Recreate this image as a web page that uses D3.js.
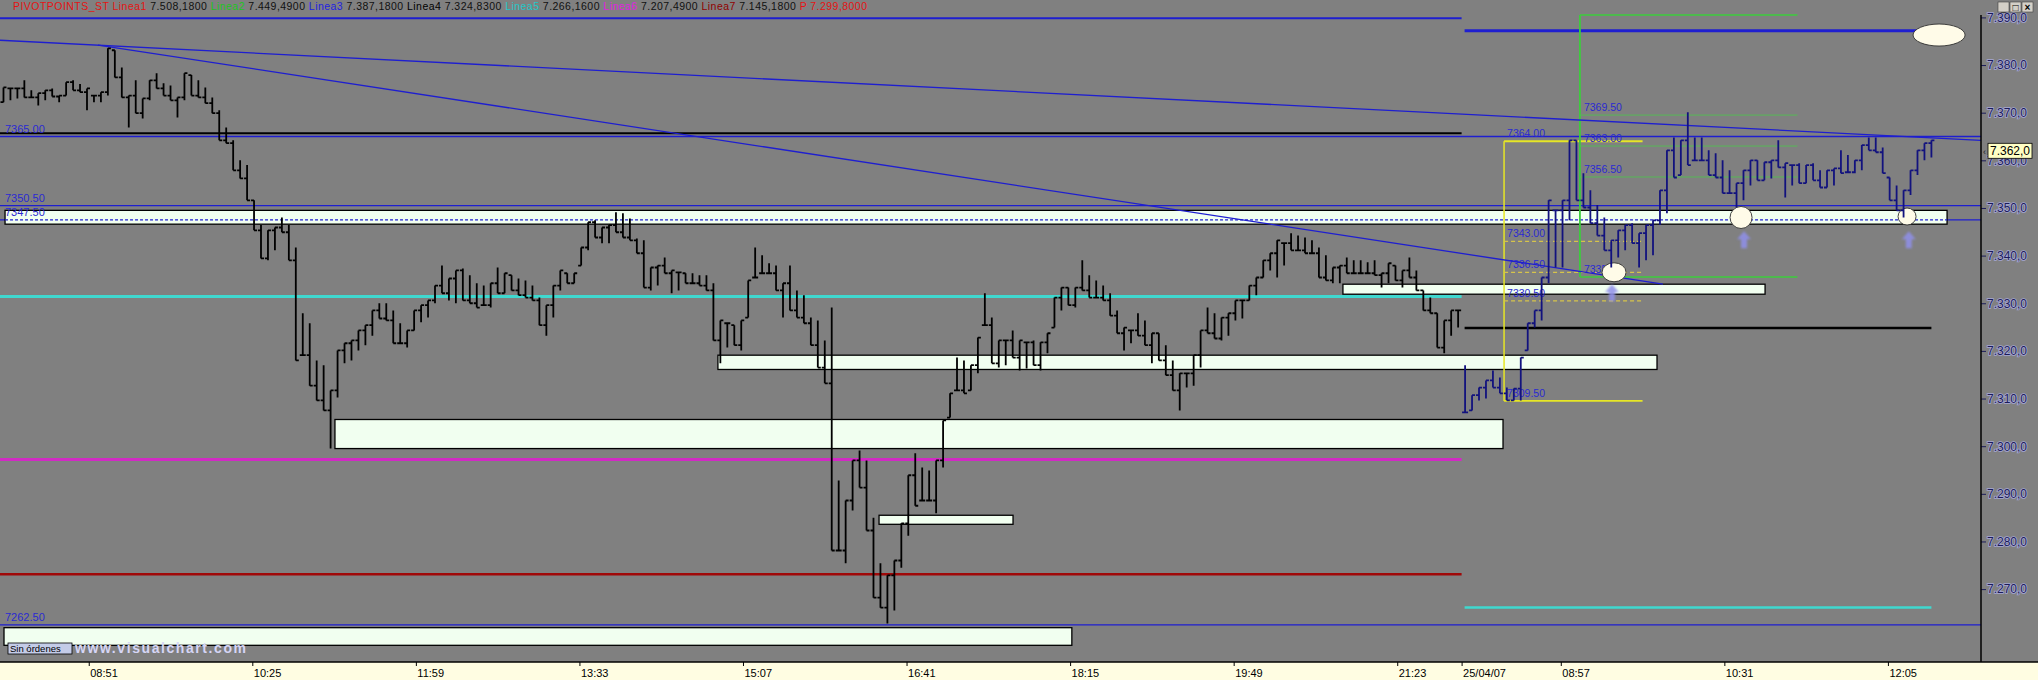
<!DOCTYPE html>
<html>
<head>
<meta charset="utf-8">
<script src="https://cdn.jsdelivr.net/npm/d3@7"></script>
<style>
  body { margin: 0; background: #808080; }
  svg { display: block; font-family: "Liberation Sans", Arial, sans-serif; }
</style>
</head>
<body>
<div id="wrapper"></div>
<script>
//1) Data

// x values are minutes counted from 08:00 of the first session (second session starts at 840)
const timeTicks = [51, 145, 239, 333, 427, 521, 615, 709, 803, 840, 897, 991, 1085];
const timeLabels = ["08:51", "10:25", "11:59", "13:33", "15:07", "16:41", "18:15", "19:49", "21:23", "25/04/07", "08:57", "10:31", "12:05"];
const priceTicks = [7270, 7280, 7290, 7300, 7310, 7320, 7330, 7340, 7350, 7360, 7370, 7380, 7390];

const headerNames = ["PIVOTPOINTS_ST", "Linea1", "Linea2", "Linea3", "Linea4", "Linea5", "Linea6", "Linea7", "P"];
const headerValues = ["", "7.508,1800", "7.449,4900", "7.387,1800", "7.324,8300", "7.266,1600", "7.207,4900", "7.145,1800", "7.299,8000"];

// 4 minute bars, low and high
const barLow = [
  7372.2, 7372.6, 7373.0, 7373.2, 7373.2, 7371.5, 7372.6, 7373.4, 7372.2, 7373.6,
  7374.7, 7374.3, 7370.5, 7372.2, 7372.2, 7373.6, 7377.4, 7373.2, 7366.9, 7369.9,
  7368.8, 7372.6, 7375.1, 7373.6, 7372.6, 7369.0, 7372.6, 7373.6, 7373.2, 7372.0,
  7369.9, 7364.2, 7363.6, 7357.9, 7356.2, 7351.6, 7345.3, 7339.4, 7339.0, 7341.1,
  7344.9, 7339.0, 7318.0, 7319.1, 7312.7, 7309.6, 7307.5, 7299.5, 7310.2, 7317.4,
  7318.0, 7320.1, 7321.2, 7323.2, 7326.8, 7326.4, 7321.6, 7321.6, 7320.7, 7324.3,
  7326.0, 7327.0, 7330.0, 7332.1, 7330.6, 7330.0, 7330.6, 7330.0, 7329.1, 7329.6,
  7329.1, 7332.1, 7332.1, 7332.7, 7331.7, 7331.2, 7330.6, 7325.4, 7323.2, 7327.0,
  7332.7, 7334.2, 7334.2, 7337.9, 7341.1, 7343.8, 7342.6, 7342.6, 7344.9, 7343.8,
  7343.2, 7340.5, 7333.3, 7332.7, 7333.7, 7336.3, 7332.1, 7332.7, 7334.2, 7334.2,
  7333.7, 7332.7, 7322.2, 7317.4, 7320.7, 7321.2, 7320.1, 7327.0, 7335.4, 7336.3,
  7336.3, 7332.7, 7327.0, 7328.5, 7327.0, 7325.8, 7321.2, 7316.5, 7313.2, 7278.1,
  7278.1, 7275.4, 7286.5, 7291.3, 7282.3, 7268.2, 7266.1, 7262.8, 7265.5, 7274.5,
  7281.2, 7287.5, 7288.6, 7288.6, 7285.9, 7295.5, 7306.0, 7311.7, 7311.1, 7311.7,
  7315.3, 7325.4, 7317.4, 7316.5, 7317.0, 7318.6, 7315.9, 7316.3, 7317.0, 7315.9,
  7319.5, 7324.9, 7328.5, 7329.6, 7329.1, 7332.7, 7331.2, 7331.2, 7330.6, 7327.4,
  7323.7, 7320.1, 7321.6, 7323.2, 7321.2, 7317.4, 7318.0, 7314.9, 7311.7, 7307.5,
  7312.3, 7312.7, 7316.5, 7323.7, 7322.6, 7322.2, 7323.2, 7326.4, 7326.8, 7330.6,
  7331.7, 7335.4, 7336.9, 7335.4, 7337.9, 7341.1, 7341.1, 7340.5, 7340.5, 7335.4,
  7334.8, 7334.2, 7334.2, 7336.3, 7336.3, 7336.3, 7336.3, 7335.9, 7333.3, 7334.2,
  7334.8, 7333.3, 7335.4, 7332.7, 7328.5, 7327.9, 7320.7, 7319.5, 7323.2, 7324.9,
  7307.1, 7307.5, 7309.6, 7310.0, 7312.3, 7311.1, 7309.6, 7309.6, 7309.6, 7320.1,
  7324.9, 7326.4, 7334.2, 7337.5, 7337.5, 7347.4, 7351.6, 7350.1, 7346.8, 7344.2,
  7341.1, 7337.5, 7339.6, 7341.1, 7342.6, 7337.5, 7339.0, 7340.1, 7346.4, 7348.9,
  7356.4, 7356.9, 7359.0, 7360.0, 7360.0, 7356.9, 7356.4, 7353.1, 7353.1, 7350.1,
  7351.6, 7354.7, 7355.8, 7355.8, 7356.2, 7358.5, 7352.2, 7354.7, 7355.2, 7355.2,
  7355.8, 7354.3, 7354.3, 7354.7, 7357.3, 7357.5, 7357.3, 7357.9, 7362.1, 7361.7,
  7357.3, 7351.6, 7349.5, 7348.0, 7352.7, 7356.9, 7360.0, 7360.6
];
const barHigh = [
  7375.3, 7375.1, 7375.1, 7376.8, 7374.7, 7374.1, 7374.7, 7375.1, 7373.6, 7376.4,
  7376.8, 7376.0, 7375.1, 7373.6, 7374.3, 7383.5, 7383.1, 7379.5, 7373.6, 7376.8,
  7373.0, 7376.8, 7378.3, 7376.2, 7375.7, 7373.2, 7378.3, 7377.9, 7376.8, 7375.3,
  7373.2, 7370.5, 7366.9, 7364.2, 7360.0, 7359.0, 7351.6, 7346.4, 7345.3, 7345.9,
  7348.0, 7346.4, 7341.7, 7327.9, 7325.8, 7318.0, 7317.0, 7311.7, 7320.1, 7321.6,
  7322.2, 7324.3, 7325.4, 7328.5, 7330.0, 7330.0, 7328.5, 7325.8, 7324.3, 7328.5,
  7329.6, 7330.6, 7333.7, 7337.9, 7335.2, 7336.9, 7337.3, 7335.9, 7334.2, 7333.7,
  7334.2, 7337.5, 7336.3, 7335.9, 7335.2, 7334.8, 7333.7, 7331.2, 7329.6, 7333.7,
  7336.9, 7336.3, 7336.3, 7341.7, 7347.0, 7347.4, 7345.9, 7346.4, 7349.1, 7348.9,
  7347.8, 7343.6, 7343.2, 7337.5, 7337.9, 7339.6, 7336.9, 7336.5, 7336.3, 7336.3,
  7335.9, 7335.9, 7334.2, 7326.4, 7325.8, 7325.4, 7326.4, 7334.8, 7341.7, 7340.1,
  7338.4, 7337.9, 7334.2, 7337.9, 7332.7, 7331.7, 7327.0, 7326.4, 7322.2, 7329.1,
  7292.8, 7288.6, 7297.0, 7299.1, 7297.0, 7285.0, 7275.4, 7272.9, 7276.0, 7283.8,
  7293.9, 7298.5, 7295.5, 7294.9, 7297.0, 7305.4, 7311.1, 7318.6, 7318.0, 7317.0,
  7322.8, 7332.1, 7327.0, 7322.2, 7322.2, 7324.3, 7322.2, 7321.8, 7322.2, 7321.8,
  7323.7, 7331.2, 7333.3, 7333.3, 7333.3, 7339.0, 7335.9, 7334.8, 7333.7, 7332.1,
  7328.5, 7324.9, 7324.3, 7327.9, 7326.4, 7323.7, 7323.7, 7321.2, 7318.0, 7315.3,
  7315.3, 7319.1, 7324.3, 7329.1, 7327.9, 7327.0, 7327.9, 7330.6, 7330.6, 7333.7,
  7335.4, 7339.0, 7340.5, 7343.2, 7342.6, 7344.7, 7344.2, 7343.8, 7343.2, 7341.7,
  7340.1, 7337.5, 7337.9, 7339.6, 7339.0, 7339.0, 7338.6, 7339.0, 7336.3, 7338.4,
  7337.9, 7336.9, 7339.6, 7336.9, 7332.7, 7331.2, 7327.9, 7326.4, 7328.5, 7328.5,
  7317.0, 7310.7, 7312.3, 7313.8, 7315.9, 7314.4, 7312.3, 7312.1, 7318.6, 7325.8,
  7328.5, 7335.4, 7351.6, 7349.5, 7351.6, 7364.2, 7364.2, 7357.3, 7353.7, 7350.6,
  7348.0, 7343.2, 7345.3, 7346.4, 7346.8, 7344.7, 7346.4, 7347.4, 7353.7, 7362.1,
  7364.8, 7364.2, 7370.1, 7364.8, 7364.8, 7362.1, 7361.5, 7360.0, 7357.9, 7355.2,
  7357.9, 7360.0, 7360.0, 7359.6, 7360.0, 7364.2, 7359.4, 7359.0, 7359.4, 7359.0,
  7359.4, 7357.9, 7357.9, 7358.3, 7362.1, 7361.1, 7360.0, 7363.2, 7364.8, 7364.8,
  7362.7, 7356.4, 7354.7, 7353.7, 7357.9, 7362.1, 7363.6, 7364.2
];
const sessionBreak = 840;
const lastPrice = 7362.0;

// pivot lines of each session: Linea3, Linea4, Linea5, Linea6, Linea7
const pivotsDay1 = [7389.8, 7365.7, 7331.4, 7297.2, 7273.1];
const pivotsDay2 = [7387.18, 7324.83, 7266.16];

// blue support / resistance lines over the whole chart
const levelValues = [7365.0, 7350.5, 7347.5, 7262.5];
const levelLabels = ["7365.00", "7350.50", "7347.50", "7262.50"];

// zones (white boxes)
const zoneStart = [2.9, 771.8, 412.6, 192.5, 505.2, 2.3];
const zoneEnd = [1119, 1014.4, 952.3, 863.8, 582.2, 616];
const zoneTop = [7349.5, 7334.0, 7319.1, 7305.6, 7285.5, 7261.9];
const zoneBottom = [7346.6, 7331.9, 7316.1, 7299.5, 7283.6, 7258.2];

// retracements of the second session
const yellowFib = [7364.0, 7343.0, 7336.5, 7330.5, 7309.5];
const yellowFibLabels = ["7364.00", "7343.00", "7336.50", "7330.50", "7309.50"];
const yellowFibSpan = [864.4, 944];
const greenFib = [7390.5, 7369.5, 7363.0, 7356.5, 7335.5];
const greenFibLabels = ["", "7369.50", "7363.00", "7356.50", "7335.50"];
const greenFibSpan = [908, 1033];

// trendlines, [minute, price] pairs
const trendA = [[0, 7385.2], [1138.5, 7364.2]];
const trendB = [[56.3, 7384.2], [955.7, 7334.0]];

// marks drawn by hand: circles and arrows
const circleMinutes = [1114.4, 1000.6, 1096, 927.6];
const circlePrices = [7386.3, 7348.0, 7348.2, 7336.5];
const arrowMinutes = [1002.3, 1097, 926.4];
const arrowPrices = [7343.2, 7343.2, 7332.1];

function drawChart() {

  //2) Dimensions

  let dimensions = {
    width: 2038,
    height: 680,
    plotRight: 1981,
    axisTop: 662,
  }

  //3) Canvas

  const svg = d3.select("#wrapper")
    .append("svg")
    .attr("width", dimensions.width)
    .attr("height", dimensions.height)

  svg.append("rect")
    .attr("width", dimensions.width)
    .attr("height", dimensions.height)
    .attr("fill", "#808080")

  //4) Scales

  const xScale = d3.scaleLinear()
    .domain([0, 1138.5])
    .range([0, dimensions.plotRight])

  const yScale = d3.scaleLinear()
    .domain([7270, 7390])
    .range([589.1, 17.4])

  const x = d => xScale(d)
  const y = d => yScale(d)
  const blue = "#1e1ed0"
  const labelBlue = "#2a2ad2"

  const plot = svg.append("g")

  //5) Lines and zones

  // full width blue levels (under the boxes)
  plot.selectAll(".level")
    .data(levelValues)
    .enter()
    .append("line")
    .attr("x1", 0)
    .attr("x2", dimensions.plotRight)
    .attr("y1", d => y(d))
    .attr("y2", d => y(d))
    .attr("stroke", blue)
    .attr("stroke-width", 1.4)

  // day 1 pivots
  const pivotColors1 = [blue, "#000000", "#3fd8cf", "#d22ac4", "#a00808"]
  const pivotWidths1 = [2, 2, 3, 3, 2.5]
  plot.selectAll(".pivot1")
    .data(pivotsDay1)
    .enter()
    .append("line")
    .attr("x1", 0)
    .attr("x2", x(sessionBreak))
    .attr("y1", d => y(d))
    .attr("y2", d => y(d))
    .attr("stroke", (d, i) => pivotColors1[i])
    .attr("stroke-width", (d, i) => pivotWidths1[i])

  // day 2 pivots
  const pivotColors2 = [blue, "#000000", "#3fd8cf"]
  plot.selectAll(".pivot2")
    .data(pivotsDay2)
    .enter()
    .append("line")
    .attr("x1", x(sessionBreak) + 3)
    .attr("x2", (d, i) => i == 0 ? x(1114) : x(1110))
    .attr("y1", d => y(d))
    .attr("y2", d => y(d))
    .attr("stroke", (d, i) => pivotColors2[i])
    .attr("stroke-width", (d, i) => i == 0 ? 3 : 2.5)

  // zones
  plot.selectAll(".zone")
    .data(zoneStart)
    .enter()
    .append("rect")
    .attr("x", (d, i) => x(zoneStart[i]))
    .attr("y", (d, i) => y(zoneTop[i]))
    .attr("width", (d, i) => x(zoneEnd[i]) - x(zoneStart[i]))
    .attr("height", (d, i) => y(zoneBottom[i]) - y(zoneTop[i]))
    .attr("fill", "#f1fff0")
    .attr("stroke", "#000")
    .attr("stroke-width", 1.3)

  // dashed level inside the long box
  plot.append("line")
    .attr("x1", x(zoneStart[0]))
    .attr("x2", x(zoneEnd[0]))
    .attr("y1", y(levelValues[2]))
    .attr("y2", y(levelValues[2]))
    .attr("stroke", blue)
    .attr("stroke-width", 1.2)
    .attr("stroke-dasharray", "3,2")

  // level labels on the left
  plot.selectAll(".levelLabel")
    .data(levelValues)
    .enter()
    .append("text")
    .attr("x", 5)
    .attr("y", d => y(d) - 4)
    .attr("fill", labelBlue)
    .style("font-size", "11px")
    .text((d, i) => levelLabels[i])

  // yellow retracement
  plot.append("line")
    .attr("x1", x(yellowFibSpan[0])).attr("x2", x(yellowFibSpan[0]))
    .attr("y1", y(yellowFib[0])).attr("y2", y(yellowFib[4]))
    .attr("stroke", "#e6e626").attr("stroke-width", 1.5)
  plot.selectAll(".yfib")
    .data(yellowFib)
    .enter()
    .append("line")
    .attr("x1", x(yellowFibSpan[0]))
    .attr("x2", x(yellowFibSpan[1]))
    .attr("y1", d => y(d))
    .attr("y2", d => y(d))
    .attr("stroke", (d, i) => (i == 0 || i == 4) ? "#e6e626" : "#d6c44a")
    .attr("stroke-width", (d, i) => (i == 0 || i == 4) ? 1.8 : 1.2)
    .attr("stroke-dasharray", (d, i) => (i == 0 || i == 4) ? null : "4,3")

  // green retracement
  plot.append("line")
    .attr("x1", x(greenFibSpan[0])).attr("x2", x(greenFibSpan[0]))
    .attr("y1", y(greenFib[0])).attr("y2", y(greenFib[4]))
    .attr("stroke", "#3ccc3c").attr("stroke-width", 1.8)
  plot.selectAll(".gfib")
    .data(greenFib)
    .enter()
    .append("line")
    .attr("x1", x(greenFibSpan[0]))
    .attr("x2", x(greenFibSpan[1]))
    .attr("y1", d => y(d))
    .attr("y2", d => y(d))
    .attr("stroke", (d, i) => (i == 0 || i == 4) ? "#3ccc3c" : "#56b856")
    .attr("stroke-width", (d, i) => (i == 0 || i == 4) ? 1.6 : 1)

  plot.selectAll(".yfibLabel")
    .data(yellowFib)
    .enter()
    .append("text")
    .attr("x", x(yellowFibSpan[0]) + 3)
    .attr("y", d => y(d) - 4)
    .attr("fill", labelBlue)
    .style("font-size", "10.5px")
    .text((d, i) => yellowFibLabels[i])

  plot.selectAll(".gfibLabel")
    .data(greenFib.filter((d, i) => greenFibLabels[i] != ""))
    .enter()
    .append("text")
    .attr("x", x(greenFibSpan[0]) + 4)
    .attr("y", d => y(d) - 4)
    .attr("fill", labelBlue)
    .style("font-size", "10.5px")
    .text(d => greenFibLabels[greenFib.indexOf(d)])

  // trendlines
  const lineGen = d3.line().x(d => x(d[0])).y(d => y(d[1]))
  plot.selectAll(".trend")
    .data([trendA, trendB])
    .enter()
    .append("path")
    .attr("d", lineGen)
    .attr("fill", "none")
    .attr("stroke", blue)
    .attr("stroke-width", 1.3)

  // circles
  const circleRx = [26, 11, 9, 12]
  const circleRy = [11, 11, 8.5, 9.5]
  plot.selectAll(".mark")
    .data(circleMinutes)
    .enter()
    .append("ellipse")
    .attr("cx", (d, i) => x(circleMinutes[i]))
    .attr("cy", (d, i) => y(circlePrices[i]))
    .attr("rx", (d, i) => circleRx[i])
    .attr("ry", (d, i) => circleRy[i])
    .attr("fill", "#fffbe8")
    .attr("stroke", "#303030")
    .attr("stroke-width", 0.9)

  //6) Bars

  const bars = barLow.map((lo, i) => ({
    lo: lo,
    hi: barHigh[i],
    minute: 4 * i + 2,
    day2: 4 * i >= sessionBreak,
  }))
  bars.forEach((b, i) => {
    const next = bars[i + 1]
    const up = next && next.day2 == b.day2 ? (next.lo + next.hi) > (b.lo + b.hi) : true
    b.close = up ? b.hi : b.lo
  })
  bars.forEach((b, i) => {
    const prev = bars[i - 1]
    b.open = prev && prev.day2 == b.day2 ? Math.max(b.lo, Math.min(b.hi, prev.close)) : b.lo
  })

  plot.selectAll(".bar")
    .data(bars)
    .enter()
    .append("path")
    .attr("d", b => {
      const cx = x(b.minute)
      return `M${cx},${y(b.hi)}V${y(b.lo)}M${cx - 3},${y(b.open)}H${cx}M${cx},${y(b.close)}H${cx + 3}`
    })
    .attr("fill", "none")
    .attr("stroke", b => b.day2 ? "#12127e" : "#000")
    .attr("stroke-width", 1.8)

  // arrows under the circles
  const blur = svg.append("defs").append("filter").attr("id", "soft")
  blur.append("feGaussianBlur").attr("stdDeviation", 1.2)
  plot.selectAll(".arrow")
    .data(arrowMinutes)
    .enter()
    .append("path")
    .attr("transform", (d, i) => `translate(${x(arrowMinutes[i])},${y(arrowPrices[i])})`)
    .attr("d", "M0,-9L7,-1H3V8H-3V-1H-7Z")
    .attr("fill", "#9090ea")
    .attr("opacity", 0.85)
    .attr("filter", "url(#soft)")

  //7) Axes

  const esLocale = d3.formatLocale({ decimal: ",", thousands: ".", grouping: [3], currency: ["", " €"] })
  const priceFormat = esLocale.format(",.1f")

  const yAxis = d3.axisRight(yScale)
    .tickValues(priceTicks)
    .tickFormat(priceFormat)
    .tickSize(5)
    .tickPadding(1)

  const yAxisGroup = svg.append("g")
    .attr("transform", `translate(${dimensions.plotRight},0)`)
    .call(yAxis)
  yAxisGroup.select(".domain").remove()
  yAxisGroup.selectAll("line").attr("stroke", "#1c1c5a")
  yAxisGroup.selectAll("text")
    .attr("fill", "#1c1c5a")
    .attr("stroke", "#a4a6d4")
    .attr("stroke-width", 1.6)
    .attr("paint-order", "stroke")
    .style("font-size", "12px")
    .style("font-family", "Liberation Sans, Arial, sans-serif")

  svg.append("line")
    .attr("x1", dimensions.plotRight).attr("x2", dimensions.plotRight)
    .attr("y1", 15).attr("y2", dimensions.axisTop)
    .attr("stroke", "#000").attr("stroke-width", 1.5)

  // last price
  const lp = svg.append("g").attr("transform", `translate(${dimensions.plotRight + 7},${y(lastPrice)})`)
  lp.append("rect")
    .attr("x", 0).attr("y", -7.5).attr("width", 44).attr("height", 15)
    .attr("fill", "#ffffc4").attr("stroke", "#000").attr("stroke-width", 0.8)
  lp.append("text")
    .attr("x", 2).attr("y", 4.5)
    .attr("fill", "#000")
    .style("font-size", "12px")
    .text(priceFormat(lastPrice))
  lp.append("text")
    .attr("x", -5).attr("y", 4)
    .attr("fill", "#222")
    .style("font-size", "9px")
    .text("‹")

  // x axis strip
  svg.append("rect")
    .attr("x", 0).attr("y", dimensions.axisTop)
    .attr("width", dimensions.width).attr("height", dimensions.height - dimensions.axisTop)
    .attr("fill", "#fffde2")

  const xAxis = d3.axisBottom(xScale)
    .tickValues(timeTicks)
    .tickFormat((d, i) => timeLabels[i])
    .tickSize(4)
    .tickPadding(3)

  const xAxisGroup = svg.append("g")
    .attr("transform", `translate(0,${dimensions.axisTop})`)
    .call(xAxis)
  xAxisGroup.select(".domain").remove()
  xAxisGroup.selectAll("line").attr("stroke", "#000")
  xAxisGroup.selectAll("text")
    .attr("text-anchor", "start")
    .attr("x", 1)
    .attr("fill", "#000")
    .style("font-size", "11px")
    .style("font-family", "Liberation Sans, Arial, sans-serif")

  svg.append("line")
    .attr("x1", 0).attr("x2", dimensions.width)
    .attr("y1", dimensions.axisTop).attr("y2", dimensions.axisTop)
    .attr("stroke", "#000").attr("stroke-width", 1.5)

  //8) Header and bits of the window

  const headerColors = ["#e41414", "#e41414", "#22c422", "#2222e0", "#000", "#22c8c8", "#e022e0", "#900000", "#e41414"]
  const header = svg.append("text")
    .attr("x", 13)
    .attr("y", 10)
    .attr("textLength", 854)
    .attr("lengthAdjust", "spacing")
    .style("font-size", "10.5px")
  headerNames.forEach((name, i) => {
    header.append("tspan").attr("fill", headerColors[i]).text(name + " ")
    if (headerValues[i] != "") {
      header.append("tspan")
        .attr("fill", i == 8 ? headerColors[i] : "#101010")
        .text(headerValues[i] + "  ")
    }
  })

  const controls = ["_", "□", "×"]
  controls.forEach((c, i) => {
    svg.append("rect")
      .attr("x", 1998 + i * 12).attr("y", 2)
      .attr("width", 11).attr("height", 10)
      .attr("fill", "#d4d0c8").attr("stroke", "#404040").attr("stroke-width", 0.6)
    svg.append("text")
      .attr("x", 2003.5 + i * 12).attr("y", 10.5)
      .attr("text-anchor", "middle")
      .attr("fill", "#000")
      .style("font-size", "10px")
      .style("font-weight", "bold")
      .text(c)
  })

  // "Sin órdenes" box and watermark
  svg.append("rect")
    .attr("x", 8).attr("y", 643).attr("width", 64).attr("height", 11)
    .attr("fill", "#c4cce8").attr("stroke", "#000").attr("stroke-width", 0.8)
  svg.append("text")
    .attr("x", 10).attr("y", 652)
    .attr("fill", "#000")
    .style("font-size", "9.5px")
    .text("Sin órdenes")
  svg.append("text")
    .attr("x", 75).attr("y", 653)
    .attr("textLength", 171)
    .attr("fill", "#d6d6f6")
    .style("font-size", "14px")
    .style("font-weight", "bold")
    .text("www.visualchart.com")
}
drawChart()
</script>
</body>
</html>
